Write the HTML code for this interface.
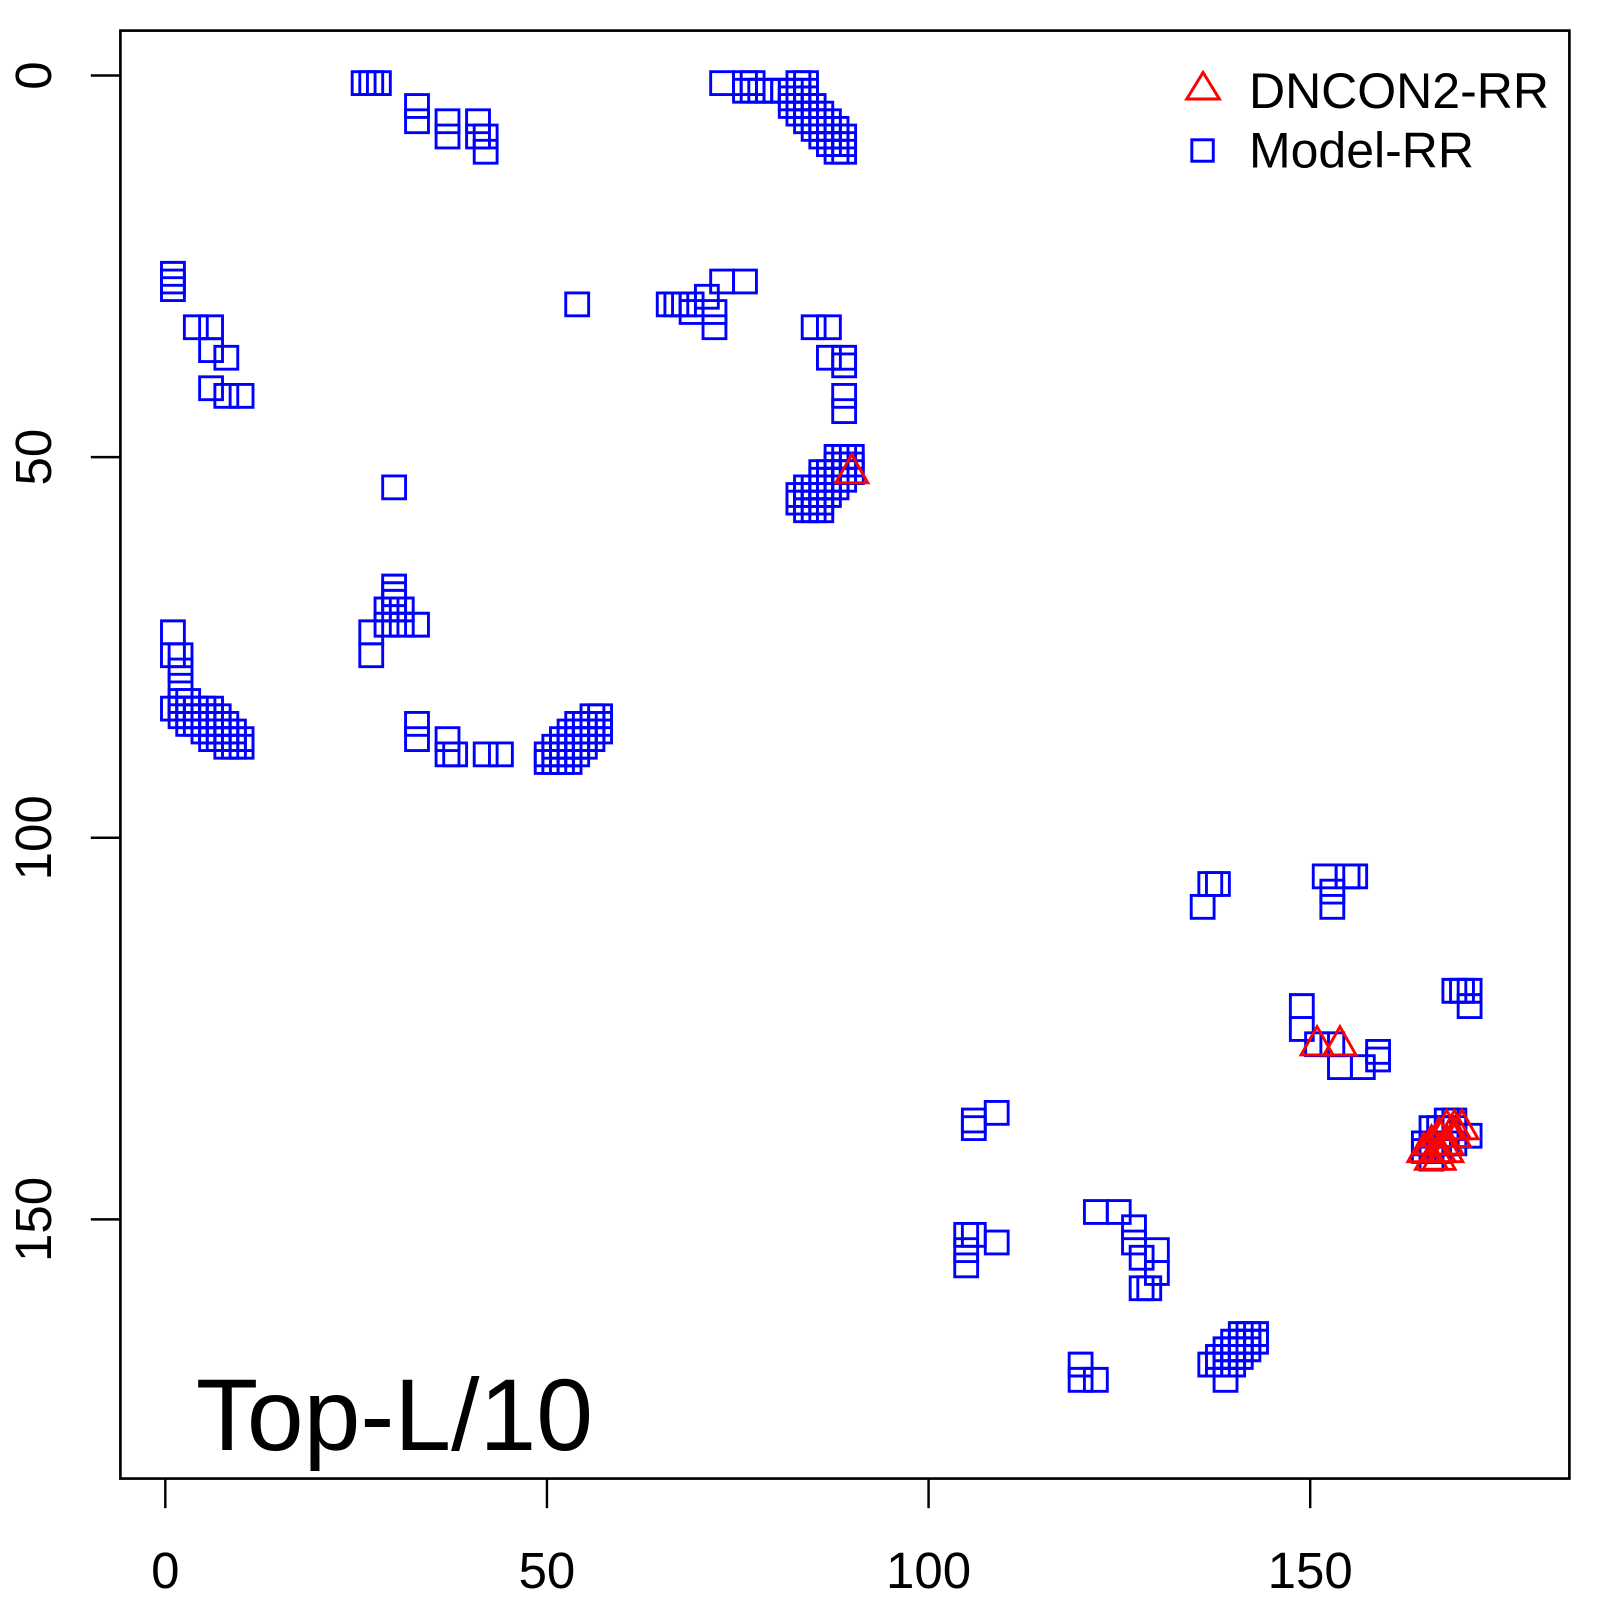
<!DOCTYPE html>
<html><head><meta charset="utf-8"><style>
html,body{margin:0;padding:0;background:#fff;}
svg{display:block;}
text{font-family:"Liberation Sans",Arial,sans-serif;fill:#000;}
</style></head><body>
<svg width="1600" height="1600" viewBox="0 0 1568 1568" xmlns="http://www.w3.org/2000/svg">
<defs>
<rect id="s" x="-1.5" y="-1.5" width="3" height="3" fill="none" stroke="#0000ff" stroke-width="2.9" vector-effect="non-scaling-stroke"/>
<polygon id="t" points="-2.1,1.4 2.1,1.4 0,-2.3" fill="none" stroke="#ff0000" stroke-width="2.9" vector-effect="non-scaling-stroke"/>
</defs>
<rect x="118" y="30" width="1420" height="1419" fill="none" stroke="#000" stroke-width="2.6"/>
<g stroke="#000" stroke-width="2.4">
<line x1="162" y1="1449" x2="162" y2="1478"/><line x1="536" y1="1449" x2="536" y2="1478"/><line x1="910" y1="1449" x2="910" y2="1478"/><line x1="1284" y1="1449" x2="1284" y2="1478"/>
<line x1="118" y1="74" x2="89" y2="74"/><line x1="118" y1="448" x2="89" y2="448"/><line x1="118" y1="821" x2="89" y2="821"/><line x1="118" y1="1195" x2="89" y2="1195"/>
</g>
<g font-size="50" text-anchor="middle">
<text x="162" y="1556">0</text><text x="536" y="1556">50</text><text x="910" y="1556">100</text><text x="1284" y="1556">150</text>
<text transform="translate(50,74) rotate(-90)">0</text>
<text transform="translate(50,448) rotate(-90)">50</text>
<text transform="translate(50,821) rotate(-90)">100</text>
<text transform="translate(50,1195) rotate(-90)">150</text>
</g>
<text x="192" y="1421" font-size="100">Top-L/10</text>
<g font-size="49"><text x="1224" y="106">DNCON2-RR</text><text x="1224" y="164">Model-RR</text></g>
<polygon points="1163,97 1195,97 1179,71" fill="none" stroke="#ff0000" stroke-width="2.9"/>
<rect x="1168" y="137" width="21" height="21" fill="none" stroke="#0000ff" stroke-width="2.9"/>
<g transform="translate(162,74) scale(7.475)">
<use href="#s" x="26" y="1"/><use href="#s" x="27" y="1"/><use href="#s" x="28" y="1"/>
<use href="#s" x="33" y="4"/><use href="#s" x="33" y="6"/><use href="#s" x="37" y="6"/><use href="#s" x="37" y="8"/>
<use href="#s" x="41" y="6"/><use href="#s" x="41" y="8"/><use href="#s" x="42" y="8"/><use href="#s" x="42" y="10"/>
<use href="#s" x="73" y="1"/><use href="#s" x="76" y="1"/><use href="#s" x="77" y="1"/><use href="#s" x="76" y="2"/><use href="#s" x="77" y="2"/><use href="#s" x="78" y="2"/><use href="#s" x="79" y="2"/><use href="#s" x="80" y="2"/><use href="#s" x="81" y="2"/>
<use href="#s" x="83" y="1"/><use href="#s" x="84" y="1"/><use href="#s" x="82" y="2"/><use href="#s" x="83" y="2"/><use href="#s" x="84" y="2"/>
<use href="#s" x="82" y="3"/><use href="#s" x="83" y="3"/><use href="#s" x="84" y="3"/>
<use href="#s" x="82" y="4"/><use href="#s" x="83" y="4"/><use href="#s" x="84" y="4"/><use href="#s" x="85" y="4"/>
<use href="#s" x="83" y="5"/><use href="#s" x="84" y="5"/><use href="#s" x="85" y="5"/><use href="#s" x="86" y="5"/>
<use href="#s" x="84" y="6"/><use href="#s" x="85" y="6"/><use href="#s" x="86" y="6"/><use href="#s" x="87" y="6"/>
<use href="#s" x="85" y="7"/><use href="#s" x="86" y="7"/><use href="#s" x="87" y="7"/><use href="#s" x="88" y="7"/>
<use href="#s" x="86" y="8"/><use href="#s" x="87" y="8"/><use href="#s" x="88" y="8"/><use href="#s" x="89" y="8"/>
<use href="#s" x="87" y="9"/><use href="#s" x="88" y="9"/><use href="#s" x="89" y="9"/><use href="#s" x="88" y="10"/><use href="#s" x="89" y="10"/>
<use href="#s" x="1" y="26"/><use href="#s" x="1" y="27"/><use href="#s" x="1" y="28"/>
<use href="#s" x="4" y="33"/><use href="#s" x="6" y="33"/><use href="#s" x="6" y="36"/><use href="#s" x="8" y="37"/>
<use href="#s" x="6" y="41"/><use href="#s" x="8" y="42"/><use href="#s" x="10" y="42"/>
<use href="#s" x="54" y="30"/><use href="#s" x="30" y="54"/>
<use href="#s" x="66" y="30"/><use href="#s" x="67" y="30"/><use href="#s" x="68" y="30"/><use href="#s" x="69" y="30"/><use href="#s" x="69" y="31"/><use href="#s" x="71" y="29"/><use href="#s" x="72" y="31"/><use href="#s" x="72" y="33"/><use href="#s" x="73" y="27"/><use href="#s" x="76" y="27"/>
<use href="#s" x="85" y="33"/><use href="#s" x="87" y="33"/><use href="#s" x="87" y="37"/><use href="#s" x="89" y="37"/><use href="#s" x="89" y="38"/><use href="#s" x="89" y="42"/><use href="#s" x="89" y="44"/>
<use href="#s" x="88" y="50"/><use href="#s" x="89" y="50"/><use href="#s" x="90" y="50"/>
<use href="#s" x="88" y="51"/><use href="#s" x="89" y="51"/><use href="#s" x="90" y="51"/>
<use href="#s" x="86" y="52"/><use href="#s" x="87" y="52"/><use href="#s" x="88" y="52"/><use href="#s" x="89" y="52"/><use href="#s" x="90" y="52"/>
<use href="#s" x="86" y="53"/><use href="#s" x="87" y="53"/><use href="#s" x="88" y="53"/><use href="#s" x="89" y="53"/>
<use href="#s" x="84" y="54"/><use href="#s" x="85" y="54"/><use href="#s" x="86" y="54"/><use href="#s" x="87" y="54"/><use href="#s" x="88" y="54"/>
<use href="#s" x="83" y="55"/><use href="#s" x="84" y="55"/><use href="#s" x="85" y="55"/><use href="#s" x="86" y="55"/><use href="#s" x="87" y="55"/>
<use href="#s" x="83" y="56"/><use href="#s" x="84" y="56"/><use href="#s" x="85" y="56"/><use href="#s" x="86" y="56"/>
<use href="#s" x="84" y="57"/><use href="#s" x="85" y="57"/><use href="#s" x="86" y="57"/>
<use href="#s" x="30" y="67"/><use href="#s" x="30" y="68"/><use href="#s" x="30" y="69"/><use href="#s" x="29" y="70"/><use href="#s" x="30" y="70"/><use href="#s" x="31" y="70"/>
<use href="#s" x="29" y="72"/><use href="#s" x="31" y="72"/><use href="#s" x="33" y="72"/><use href="#s" x="27" y="73"/><use href="#s" x="27" y="76"/>
<!-- left bottom -->
<use href="#s" x="1" y="73"/><use href="#s" x="1" y="76"/><use href="#s" x="2" y="76"/><use href="#s" x="2" y="78"/><use href="#s" x="2" y="80"/><use href="#s" x="1" y="83"/>
<use href="#s" x="2" y="82"/><use href="#s" x="3" y="82"/><use href="#s" x="2" y="83"/><use href="#s" x="3" y="83"/><use href="#s" x="4" y="83"/><use href="#s" x="5" y="83"/><use href="#s" x="6" y="83"/>
<use href="#s" x="2" y="84"/><use href="#s" x="3" y="84"/><use href="#s" x="4" y="84"/><use href="#s" x="5" y="84"/><use href="#s" x="6" y="84"/><use href="#s" x="7" y="84"/>
<use href="#s" x="3" y="85"/><use href="#s" x="4" y="85"/><use href="#s" x="5" y="85"/><use href="#s" x="6" y="85"/><use href="#s" x="7" y="85"/><use href="#s" x="8" y="85"/>
<use href="#s" x="5" y="86"/><use href="#s" x="6" y="86"/><use href="#s" x="7" y="86"/><use href="#s" x="8" y="86"/><use href="#s" x="9" y="86"/>
<use href="#s" x="6" y="87"/><use href="#s" x="7" y="87"/><use href="#s" x="8" y="87"/><use href="#s" x="9" y="87"/><use href="#s" x="10" y="87"/>
<use href="#s" x="8" y="88"/><use href="#s" x="9" y="88"/><use href="#s" x="10" y="88"/>
<use href="#s" x="33" y="85"/><use href="#s" x="33" y="87"/><use href="#s" x="37" y="87"/><use href="#s" x="37" y="89"/><use href="#s" x="38" y="89"/><use href="#s" x="42" y="89"/><use href="#s" x="44" y="89"/>
<use href="#s" x="56" y="84"/><use href="#s" x="57" y="84"/>
<use href="#s" x="54" y="85"/><use href="#s" x="55" y="85"/><use href="#s" x="56" y="85"/><use href="#s" x="57" y="85"/>
<use href="#s" x="53" y="86"/><use href="#s" x="54" y="86"/><use href="#s" x="55" y="86"/><use href="#s" x="56" y="86"/><use href="#s" x="57" y="86"/>
<use href="#s" x="52" y="87"/><use href="#s" x="53" y="87"/><use href="#s" x="54" y="87"/><use href="#s" x="55" y="87"/><use href="#s" x="56" y="87"/>
<use href="#s" x="51" y="88"/><use href="#s" x="52" y="88"/><use href="#s" x="53" y="88"/><use href="#s" x="54" y="88"/><use href="#s" x="55" y="88"/>
<use href="#s" x="50" y="89"/><use href="#s" x="51" y="89"/><use href="#s" x="52" y="89"/><use href="#s" x="53" y="89"/><use href="#s" x="54" y="89"/>
<use href="#s" x="50" y="90"/><use href="#s" x="51" y="90"/><use href="#s" x="52" y="90"/><use href="#s" x="53" y="90"/>
<use href="#s" x="136" y="109"/><use href="#s" x="137" y="106"/><use href="#s" x="138" y="106"/>
<use href="#s" x="152" y="105"/><use href="#s" x="153" y="107"/><use href="#s" x="153" y="109"/><use href="#s" x="155" y="105"/><use href="#s" x="156" y="105"/>
<use href="#s" x="149" y="122"/><use href="#s" x="149" y="125"/><use href="#s" x="151" y="127"/><use href="#s" x="153" y="127"/>
<use href="#s" x="154" y="130"/><use href="#s" x="157" y="130"/><use href="#s" x="159" y="129"/><use href="#s" x="159" y="128"/>
<use href="#s" x="169" y="120"/><use href="#s" x="170" y="120"/><use href="#s" x="171" y="120"/><use href="#s" x="171" y="122"/>
<use href="#s" x="168" y="137"/><use href="#s" x="169" y="137"/>
<use href="#s" x="166" y="138"/><use href="#s" x="167" y="138"/><use href="#s" x="168" y="138"/><use href="#s" x="169" y="138"/><use href="#s" x="171" y="139"/>
<use href="#s" x="165" y="140"/><use href="#s" x="166" y="140"/><use href="#s" x="167" y="140"/><use href="#s" x="168" y="140"/><use href="#s" x="169" y="140"/>
<use href="#s" x="165" y="141"/><use href="#s" x="166" y="141"/><use href="#s" x="167" y="141"/><use href="#s" x="166" y="142"/>
<use href="#s" x="106" y="137"/><use href="#s" x="106" y="138"/><use href="#s" x="109" y="136"/>
<use href="#s" x="105" y="152"/><use href="#s" x="105" y="154"/><use href="#s" x="105" y="156"/><use href="#s" x="106" y="152"/><use href="#s" x="109" y="153"/>
<use href="#s" x="122" y="149"/><use href="#s" x="125" y="149"/><use href="#s" x="127" y="151"/><use href="#s" x="127" y="153"/><use href="#s" x="128" y="155"/>
<use href="#s" x="130" y="154"/><use href="#s" x="130" y="157"/><use href="#s" x="128" y="159"/><use href="#s" x="129" y="159"/>
<use href="#s" x="120" y="169"/><use href="#s" x="120" y="171"/><use href="#s" x="122" y="171"/>
<use href="#s" x="141" y="165"/><use href="#s" x="142" y="165"/><use href="#s" x="143" y="165"/>
<use href="#s" x="140" y="166"/><use href="#s" x="141" y="166"/><use href="#s" x="142" y="166"/><use href="#s" x="143" y="166"/>
<use href="#s" x="139" y="167"/><use href="#s" x="140" y="167"/><use href="#s" x="141" y="167"/><use href="#s" x="142" y="167"/>
<use href="#s" x="138" y="168"/><use href="#s" x="139" y="168"/><use href="#s" x="140" y="168"/><use href="#s" x="141" y="168"/>
<use href="#s" x="137" y="169"/><use href="#s" x="138" y="169"/><use href="#s" x="139" y="169"/><use href="#s" x="140" y="169"/>
<use href="#s" x="139" y="171"/>
<use href="#t" x="90" y="52"/>
<use href="#t" x="151" y="127"/><use href="#t" x="154" y="127"/>
<use href="#t" x="165" y="141"/><use href="#t" x="166" y="140"/><use href="#t" x="167" y="139"/><use href="#t" x="168" y="138"/><use href="#t" x="169" y="138"/>
<use href="#t" x="166" y="142"/><use href="#t" x="167" y="141"/><use href="#t" x="168" y="140"/><use href="#t" x="169" y="139"/><use href="#t" x="170" y="138"/>
<use href="#t" x="167" y="142"/><use href="#t" x="168" y="141"/>
</g>
</svg>
</body></html>
